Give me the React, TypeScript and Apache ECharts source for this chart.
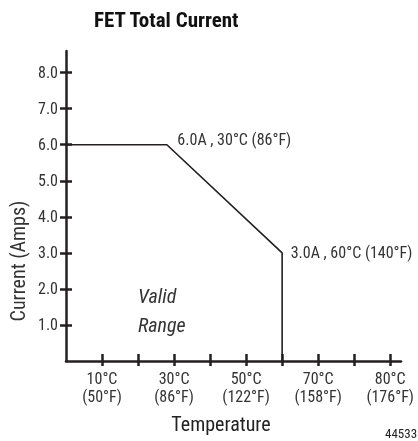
import React, { useEffect, useRef } from "react";
import * as echarts from "echarts";

const FONT = "'Roboto Condensed', 'DejaVu Sans Condensed', sans-serif";
const INK = "#231f20";

// Data (temperature °C, current A)
const tempValues = [0, 28, 60, 60];
const currentValues = [6, 6, 3, 0];
const pointLabels = ["", "6.0A , 30°C (86°F)", "3.0A , 60°C (140°F)", ""];

// Axis ticks and labels
const xTickValues = [10, 20, 30, 40, 50, 60, 70, 80, 90];
const xLabelValues = [10, 30, 50, 70, 90];
const xLabelTexts = ["10°C\n(50°F)", "30°C\n(86°F)", "50°C\n(122°F)", "70°C\n(158°F)", "80°C\n(176°F)"];
const yTickValues = [1, 2, 3, 4, 5, 6, 7, 8];

export default function App() {
  const ref = useRef<HTMLDivElement>(null);

  useEffect(() => {
    if (!ref.current) return;
    const chart = echarts.init(ref.current, null, { renderer: "svg" });

    const seriesData = tempValues.map((t, i) => ({
      value: [t, currentValues[i]],
      label: pointLabels[i]
        ? {
            show: true,
            formatter: pointLabels[i],
            position: "right",
            distance: i === 1 ? 10 : 8,
            offset: i === 1 ? [0, -5] : [0, 0],
          }
        : { show: false },
    }));

    const lineStyle = { color: INK, width: 2.5 };

    chart.setOption({
      animation: false,
      textStyle: { fontFamily: FONT },
      title: {
        text: "FET Total Current",
        left: 89,
        top: 4,
        textStyle: { fontFamily: FONT, fontSize: 21, fontWeight: "bold", color: "#111" },
      },
      grid: { left: 66, right: 17, top: 51, bottom: 80 },
      xAxis: [
        {
          type: "value",
          min: 0,
          max: 93,
          interval: 10,
          position: "bottom",
          axisLine: { show: true, onZero: false, lineStyle },
          axisTick: { show: true, customValues: xTickValues, length: 5, lineStyle },
          axisLabel: {
            customValues: xLabelValues,
            formatter: (v: number) => {
              const i = xLabelValues.indexOf(v);
              return i >= 0 ? xLabelTexts[i] : "";
            },
            fontFamily: FONT,
            fontSize: 16,
            lineHeight: 18,
            color: "#333",
            margin: 8,
          },
          splitLine: { show: false },
        },
        {
          type: "value",
          min: 0,
          max: 93,
          interval: 10,
          position: "bottom",
          axisLine: { show: false },
          axisTick: { show: true, inside: true, customValues: xTickValues, length: 7, lineStyle },
          axisLabel: { show: false },
          splitLine: { show: false },
        },
      ],
      yAxis: [
        {
          type: "value",
          min: 0,
          max: 8.6,
          interval: 1,
          position: "left",
          axisLine: { show: true, onZero: false, lineStyle },
          axisTick: { show: true, customValues: yTickValues, length: 6, lineStyle },
          axisLabel: {
            customValues: yTickValues,
            formatter: (v: number) => v.toFixed(1),
            fontFamily: FONT,
            fontSize: 16,
            color: "#333",
            margin: 8,
          },
          splitLine: { show: false },
        },
        {
          type: "value",
          min: 0,
          max: 8.6,
          interval: 1,
          position: "left",
          axisLine: { show: false },
          axisTick: { show: true, inside: true, customValues: yTickValues, length: 6, lineStyle },
          axisLabel: { show: false },
          splitLine: { show: false },
        },
      ],
      series: [
        {
          type: "line",
          data: seriesData,
          symbol: "circle",
          symbolSize: 1,
          itemStyle: { color: "rgba(0,0,0,0)" },
          lineStyle: { color: INK, width: 1.6 },
          label: { fontFamily: FONT, fontSize: 16, color: "#333" },
          z: 3,
        },
      ],
      graphic: [
        {
          type: "text",
          x: 18,
          y: 261,
          rotation: Math.PI / 2,
          style: {
            text: "Current (Amps)",
            font: `20px ${FONT}`,
            fill: "#333",
            align: "center",
            verticalAlign: "middle",
          },
        },
        {
          type: "text",
          x: 221,
          y: 424,
          style: {
            text: "Temperature",
            font: `20px ${FONT}`,
            fill: "#222",
            align: "center",
            verticalAlign: "middle",
          },
        },
        {
          type: "text",
          x: 138,
          y: 281,
          style: {
            text: "Valid\nRange",
            font: `italic 20px ${FONT}`,
            fill: "#333",
            lineHeight: 29,
            align: "left",
            verticalAlign: "top",
          },
        },
        {
          type: "text",
          x: 385,
          y: 427,
          style: {
            text: "44533",
            font: `13px ${FONT}`,
            fill: "#222",
            align: "left",
            verticalAlign: "top",
          },
        },
      ],
    });

    return () => chart.dispose();
  }, []);

  return (
    <div
      ref={ref}
      style={{ position: "fixed", left: 0, top: 0, width: 418, height: 441 }}
    />
  );
}
